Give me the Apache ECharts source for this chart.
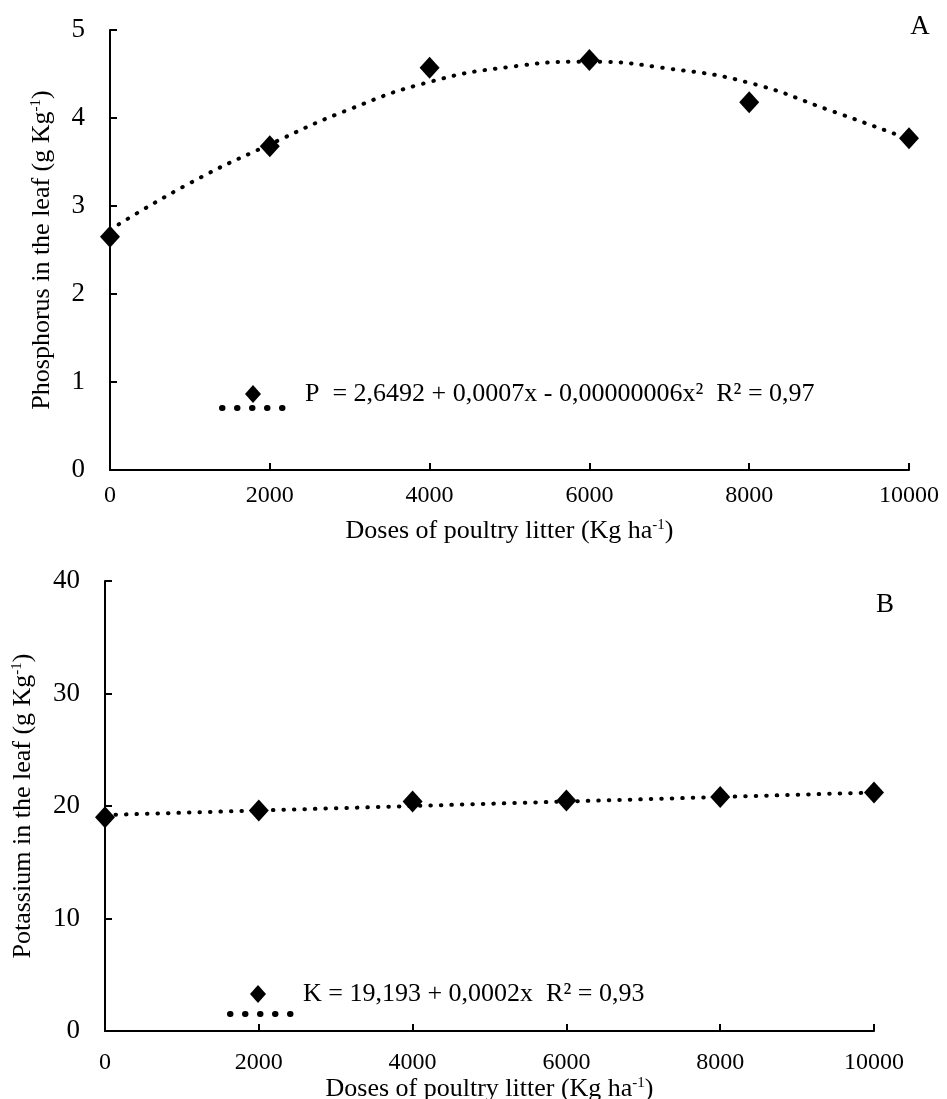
<!DOCTYPE html>
<html>
<head>
<meta charset="utf-8">
<script src="https://cdn.jsdelivr.net/npm/echarts@6/dist/echarts.min.js"></script>
<style>
  html, body { margin: 0; padding: 0; background: #fff; }
  #main { width: 947px; height: 1099px; }
</style>
</head>
<body>
<div id="main"></div>
<script>
// Doses of poultry litter (Kg ha-1)
var doses = [0, 2000, 4000, 6000, 8000, 10000];
var phosphorus = [2.65, 3.68, 4.57, 4.66, 4.18, 3.77];
var potassium = [19.0, 19.6, 20.4, 20.5, 20.8, 21.2];

// trend lines
var trendPDoses = [0, 1000, 2000, 3000, 4000, 5000, 6000, 7000, 8000, 9000, 10000];
var trendPValues = [2.73, 3.26, 3.70, 4.10, 4.41, 4.58, 4.64, 4.56, 4.40, 4.09, 3.76];
var trendKDoses = [0, 10000];
var trendKValues = [19.2, 21.2];

var xTicks = ['0', '2000', '4000', '6000', '8000', '10000'];
var eqP = 'P  = 2,6492 + 0,0007x - 0,00000006x\u00b2  R\u00b2 = 0,97';
var eqK = 'K = 19,193 + 0,0002x  R\u00b2 = 0,93';

var font = '"Liberation Serif", "DejaVu Serif", serif';

function pairs(xs, ys) {
    return xs.map(function (x, i) { return [x, ys[i]]; });
}

var nameStyle = {
    fontFamily: font, fontSize: 26, color: '#000',
    rich: { sup: { fontFamily: font, fontSize: 15, color: '#000', verticalAlign: 'top', padding: [0, 0, 10, 0] } }
};

function xAxisCfg(grid, labelMargin, nameGap) {
    return {
        type: 'value', gridIndex: grid, min: 0, max: 10000, interval: 2000,
        name: 'Doses of poultry litter (Kg ha{sup|-1})',
        nameLocation: 'middle', nameGap: nameGap,
        nameTextStyle: nameStyle,
        axisLine: { show: true, onZero: false, lineStyle: { color: '#000', width: 2 } },
        axisTick: { show: true, inside: true, length: 7, lineStyle: { color: '#000', width: 2 } },
        axisLabel: {
            margin: labelMargin, fontFamily: font, fontSize: 24, color: '#000',
            formatter: function (v) { return xTicks[v / 2000]; }
        },
        splitLine: { show: false }
    };
}

function yAxisCfg(grid, max, interval, name, nameGap) {
    return {
        type: 'value', gridIndex: grid, min: 0, max: max, interval: interval,
        name: name, nameLocation: 'middle', nameGap: nameGap,
        nameTextStyle: nameStyle,
        axisLine: { show: true, onZero: false, lineStyle: { color: '#000', width: 2 } },
        axisTick: { show: true, inside: true, length: 7, lineStyle: { color: '#000', width: 2 } },
        axisLabel: { margin: 25, fontFamily: font, fontSize: 27, color: '#000' },
        splitLine: { show: false }
    };
}

var dotted = { color: '#000', width: 4, type: [0.5, 10], cap: 'round' };

function legendGraphic(cx, cy, lineY, x1, x2, textX, text) {
    return [
        {
            type: 'polygon',
            shape: { points: [[cx, cy - 9], [cx + 8, cy], [cx, cy + 9], [cx - 8, cy]] },
            style: { fill: '#000' }
        },
        {
            type: 'line',
            shape: { x1: x1, y1: lineY, x2: x2, y2: lineY },
            style: { stroke: '#000', lineWidth: 6, lineDash: [0.5, 14.5], lineCap: 'round' }
        },
        {
            type: 'text', x: textX, y: cy,
            style: { text: text, font: '26px ' + font, fill: '#000', verticalAlign: 'middle' }
        }
    ];
}

var chart = echarts.init(document.getElementById('main'));

var option = {
    animation: false,
    backgroundColor: '#fff',
    grid: [
        { left: 110, right: 38, top: 30, height: 440, containLabel: false, outerBoundsMode: 'none' },
        { left: 105, right: 73, top: 581, height: 450, containLabel: false, outerBoundsMode: 'none' }
    ],
    xAxis: [xAxisCfg(0, 14, 48), xAxisCfg(1, 20, 42)],
    yAxis: [
        yAxisCfg(0, 5, 1, 'Phosphorus in the leaf (g Kg{sup|-1})', 55),
        yAxisCfg(1, 40, 10, 'Potassium in the leaf (g Kg{sup|-1})', 69)
    ],
    series: [
        {
            name: 'P trend', type: 'line', xAxisIndex: 0, yAxisIndex: 0,
            smooth: true, showSymbol: false, lineStyle: dotted,
            data: pairs(trendPDoses, trendPValues), z: 2
        },
        {
            name: 'P', type: 'scatter', xAxisIndex: 0, yAxisIndex: 0,
            symbol: 'diamond', symbolSize: [20, 22], itemStyle: { color: '#000', opacity: 1 },
            data: pairs(doses, phosphorus), z: 3
        },
        {
            name: 'K trend', type: 'line', xAxisIndex: 1, yAxisIndex: 1,
            showSymbol: false, lineStyle: dotted,
            data: pairs(trendKDoses, trendKValues), z: 2
        },
        {
            name: 'K', type: 'scatter', xAxisIndex: 1, yAxisIndex: 1,
            symbol: 'diamond', symbolSize: [20, 22], itemStyle: { color: '#000', opacity: 1 },
            data: pairs(doses, potassium), z: 3
        }
    ],
    graphic: [].concat(
        legendGraphic(253, 394, 408, 222, 284, 305, eqP),
        legendGraphic(258, 994, 1014, 230, 292, 303, eqK),
        [
            { type: 'text', x: 920, y: 27, style: { text: 'A', font: '27px ' + font, fill: '#000', align: 'center', verticalAlign: 'middle' } },
            { type: 'text', x: 885, y: 605, style: { text: 'B', font: '27px ' + font, fill: '#000', align: 'center', verticalAlign: 'middle' } }
        ]
    )
};

chart.setOption(option);
</script>
</body>
</html>
